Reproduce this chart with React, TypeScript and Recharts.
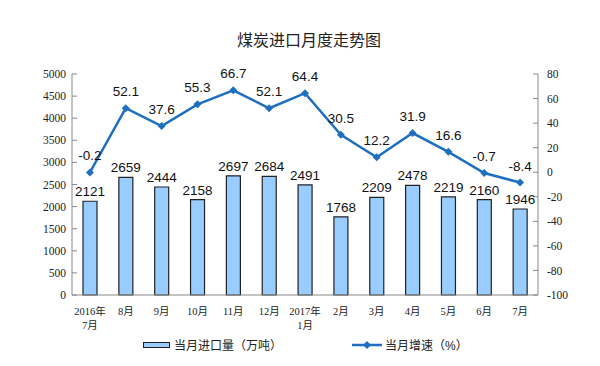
import React from 'react';
import { ComposedChart, Bar, Line, XAxis, YAxis, LabelList } from 'recharts';

const months = ['2016年\n7月', '8月', '9月', '10月', '11月', '12月', '2017年\n1月', '2月', '3月', '4月', '5月', '6月', '7月'];
const imports = [2121, 2659, 2444, 2158, 2697, 2684, 2491, 1768, 2209, 2478, 2219, 2160, 1946];
const growth = [-0.2, 52.1, 37.6, 55.3, 66.7, 52.1, 64.4, 30.5, 12.2, 31.9, 16.6, -0.7, -8.4];
const leftTicks = [0, 500, 1000, 1500, 2000, 2500, 3000, 3500, 4000, 4500, 5000];
const rightTicks = [-100, -80, -60, -40, -20, 0, 20, 40, 60, 80];

const data = months.map((m, i) => ({ month: m, imports: imports[i], growth: growth[i] }));

const serif = '"Liberation Serif", "Noto Sans CJK SC", serif';
const sans = '"Liberation Sans", "Noto Sans CJK SC", sans-serif';
const axisColor = '#898989';
const lineColor = '#1f6fc1';

const MonthTick = (props: any) => {
  const { x, y, payload } = props;
  const lines = String(payload.value).split('\n');
  return (
    <text x={x} y={y} textAnchor="middle" fontFamily={serif} fontSize={10.5} fill="#222">
      {lines.map((l, i) => (
        <tspan key={i} x={x} dy={i === 0 ? 12 : 14}>{l}</tspan>
      ))}
    </text>
  );
};

const Diamond = (props: any) => {
  const { cx, cy } = props;
  if (cx == null || cy == null) return null;
  return <path d={`M${cx},${cy - 4}L${cx + 4},${cy}L${cx},${cy + 4}L${cx - 4},${cy}Z`} fill={lineColor} />;
};

export default function App() {
  return (
    <div style={{ position: 'absolute', left: 0, top: 0, width: 600, height: 366, background: '#fff' }}>
      <div style={{ position: 'absolute', top: 27, left: 9, width: 600, textAlign: 'center', fontFamily: sans, fontSize: 16, color: '#222' }}>
        煤炭进口月度走势图
      </div>
      <ComposedChart width={600} height={366} data={data} margin={{ top: 74, right: 0, bottom: 31, left: 0 }} barCategoryGap="30%">
        <XAxis
          dataKey="month"
          interval={0}
          tick={<MonthTick />}
          stroke={axisColor}
          tickLine={false}
          height={40}
        />
        <YAxis
          yAxisId="left"
          width={72}
          domain={[0, 5000]}
          ticks={leftTicks}
          interval={0}
          tick={{ fontFamily: serif, fontSize: 11.5, fill: '#222' }}
          stroke={axisColor}
          tickSize={-5}
          tickMargin={11}
        />
        <YAxis
          yAxisId="right"
          orientation="right"
          width={62}
          domain={[-100, 80]}
          ticks={rightTicks}
          interval={0}
          tick={{ fontFamily: serif, fontSize: 11.5, fill: '#222' }}
          stroke={axisColor}
          tickSize={-5}
          tickMargin={14}
        />
        <Bar yAxisId="left" dataKey="imports" fill="#99ccff" stroke="#222" strokeWidth={1.2} barSize={14} isAnimationActive={false}>
          <LabelList dataKey="imports" position="top" offset={5} style={{ fontFamily: sans, fontSize: 13.5, fill: '#111' }} />
        </Bar>
        <Line
          yAxisId="right"
          dataKey="growth"
          stroke={lineColor}
          strokeWidth={2.5}
          dot={<Diamond />}
          activeDot={false}
          isAnimationActive={false}
        >
          <LabelList dataKey="growth" position="top" offset={12} style={{ fontFamily: sans, fontSize: 13.5, fill: '#111' }} />
        </Line>
      </ComposedChart>
      <div style={{ position: 'absolute', top: 336, left: 143, display: 'flex', alignItems: 'center', fontFamily: sans, fontSize: 12, color: '#222' }}>
        <span style={{ display: 'inline-block', width: 25, height: 4, background: '#99ccff', border: '1px solid #222', marginRight: 4 }} />
        当月进口量（万吨）
      </div>
      <div style={{ position: 'absolute', top: 336, left: 352, display: 'flex', alignItems: 'center', fontFamily: sans, fontSize: 12, color: '#222' }}>
        <svg width={30} height={10} style={{ marginRight: 3 }}>
          <line x1={0} y1={5} x2={30} y2={5} stroke={lineColor} strokeWidth={2.5} />
          <path d="M15,1L19,5L15,9L11,5Z" fill={lineColor} />
        </svg>
        当月增速（%）
      </div>
    </div>
  );
}
